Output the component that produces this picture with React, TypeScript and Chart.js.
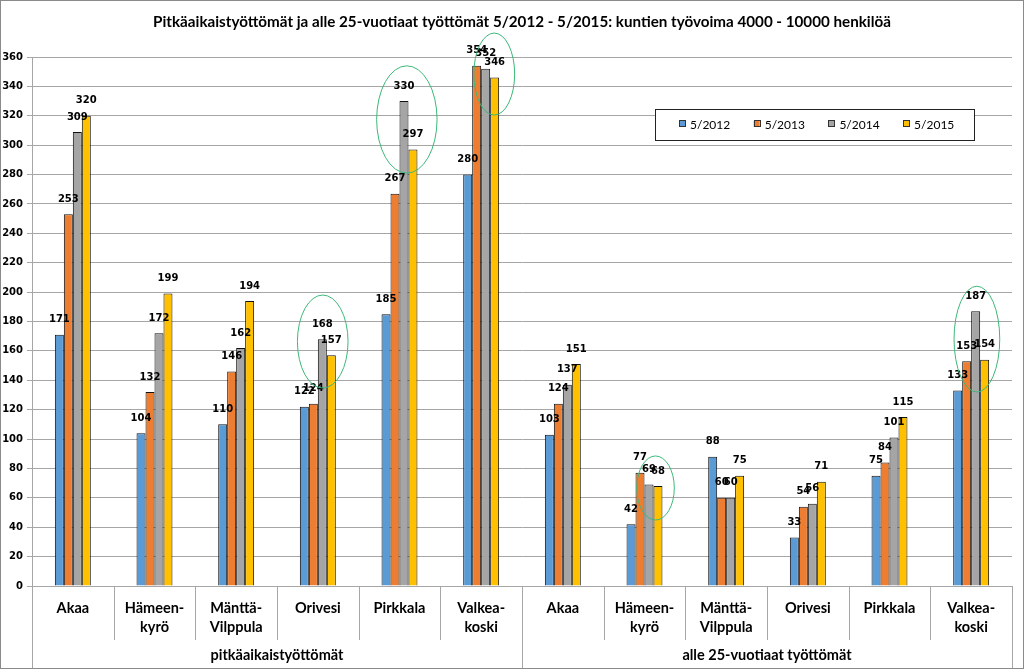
import React, { useEffect, useRef } from 'react';
import { Chart, registerables } from 'chart.js';

Chart.register(...registerables);

const titleText =
  'Pitkäaikaistyöttömät ja alle 25-vuotiaat työttömät 5/2012 - 5/2015: kuntien työvoima 4000 - 10000 henkilöä';
const municipalities: (string | string[])[] = [
  'Akaa',
  ['Hämeen-', 'kyrö'],
  ['Mänttä-', 'Vilppula'],
  'Orivesi',
  'Pirkkala',
  ['Valkea-', 'koski'],
];
const categories = [...municipalities, ...municipalities];
const groups = ['pitkäaikaistyöttömät', 'alle 25-vuotiaat työttömät'];
const seriesLabels = ['5/2012', '5/2013', '5/2014', '5/2015'];
const s2012 = [171, 104, 110, 122, 185, 280, 103, 42, 88, 33, 75, 133];
const s2013 = [253, 132, 146, 124, 267, 354, 124, 77, 60, 54, 84, 153];
const s2014 = [309, 172, 162, 168, 330, 352, 137, 69, 60, 56, 101, 187];
const s2015 = [320, 199, 194, 157, 297, 346, 151, 68, 75, 71, 115, 154];
const seriesColors = ['#5B9BD5', '#ED7D31', '#A5A5A5', '#FFC000'];
const yMin = 0;
const yMax = 360;
const yStep = 20;

// highlight ellipses: category index, centre shift & half width (in category units), value range
const hlCategory = [3, 4, 5, 7, 11];
const hlShift = [0.06, 0.09, 0.16, 0.135, 0.07];
const hlHalfWidth = [0.31, 0.37, 0.25, 0.23, 0.28];
const hlLow = [134.7, 281, 320.5, 44.9, 132];
const hlHigh = [198, 354, 376.3, 88.5, 204];

const GRID = '#a6a6a6';

const customPlugin = {
  id: 'customDecor',
  afterDatasetsDraw(chart: any) {
    const ctx = chart.ctx;
    ctx.save();
    ctx.font = 'bold 10px "DejaVu Sans"';
    ctx.fillStyle = '#000';
    ctx.textAlign = 'center';
    ctx.textBaseline = 'middle';
    chart.data.datasets.forEach((ds: any, di: number) => {
      const meta = chart.getDatasetMeta(di);
      meta.data.forEach((el: any, i: number) => {
        ctx.fillText(String(ds.data[i]), el.x, el.y - 15);
      });
    });
    // ellipses
    const xs = chart.scales.x;
    const ys = chart.scales.y;
    const cw = xs.getPixelForValue(1) - xs.getPixelForValue(0);
    ctx.strokeStyle = '#3cb878';
    ctx.lineWidth = 1;
    hlCategory.forEach((c, k) => {
      const cx = xs.getPixelForValue(c) + hlShift[k] * cw;
      const rx = hlHalfWidth[k] * cw;
      const yTop = ys.getPixelForValue(hlHigh[k]);
      const yBot = ys.getPixelForValue(hlLow[k]);
      ctx.beginPath();
      ctx.ellipse(cx, (yTop + yBot) / 2, rx, (yBot - yTop) / 2, 0, 0, Math.PI * 2);
      ctx.stroke();
    });
    ctx.restore();
  },
  afterDraw(chart: any) {
    const ctx = chart.ctx;
    const area = chart.chartArea;
    const H = chart.height;
    ctx.save();
    // title
    ctx.font = 'bold 15.2px Lato';
    ctx.fillStyle = '#000';
    ctx.textAlign = 'center';
    ctx.textBaseline = 'middle';
    ctx.fillText(titleText, 521, 21);
    // category separators
    const n = categories.length;
    const cw = (area.right - area.left) / n;
    ctx.strokeStyle = GRID;
    ctx.lineWidth = 1;
    for (let i = 0; i <= n; i++) {
      const x = Math.round(area.left + i * cw) + 0.5;
      const full = i === 0 || i === n || i === n / 2;
      ctx.beginPath();
      ctx.moveTo(x, area.bottom);
      ctx.lineTo(x, full ? H : area.bottom + 54);
      ctx.stroke();
    }
    // group labels
    ctx.font = 'bold 14.5px Lato';
    ctx.fillStyle = '#000';
    groups.forEach((g, gi) => {
      const x0 = area.left + gi * (n / 2) * cw;
      const x1 = x0 + (n / 2) * cw;
      ctx.fillText(g, (x0 + x1) / 2, 654);
    });
    // legend
    const lx = 654, ly = 108, lw = 319, lh = 31;
    ctx.fillStyle = '#fff';
    ctx.fillRect(lx, ly, lw, lh);
    ctx.strokeStyle = '#222';
    ctx.strokeRect(lx + 0.5, ly + 0.5, lw, lh);
    ctx.font = '12px Lato';
    ctx.textAlign = 'left';
    seriesLabels.forEach((lab, i) => {
      const mx = 681 + i * 74.7;
      const my = 123;
      ctx.fillStyle = seriesColors[i];
      ctx.fillRect(mx - 3, my - 3, 6, 6);
      ctx.strokeStyle = '#333';
      ctx.strokeRect(Math.round(mx - 3) + 0.5, my - 3.5, 6, 6);
      ctx.fillStyle = '#000';
      ctx.fillText(lab, mx + 8, my + 1);
    });
    ctx.restore();
  },
};

export default function App() {
  const canvasRef = useRef<HTMLCanvasElement | null>(null);

  useEffect(() => {
    if (!canvasRef.current) return;
    const series = [s2012, s2013, s2014, s2015];
    const chart = new Chart(canvasRef.current, {
      type: 'bar',
      data: {
        labels: categories as any,
        datasets: series.map((d, i) => ({
          label: seriesLabels[i],
          data: d,
          backgroundColor: seriesColors[i],
          borderColor: '#111',
          borderWidth: 1,
          categoryPercentage: 0.44,
          barPercentage: 1,
        })),
      },
      options: {
        animation: false,
        responsive: true,
        maintainAspectRatio: false,
        layout: { padding: { top: 56, right: 11, bottom: 0, left: 0 } },
        plugins: {
          legend: { display: false },
          title: { display: false },
          tooltip: { enabled: false },
        },
        scales: {
          x: {
            grid: { display: false },
            border: { display: false },
            ticks: {
              color: '#000',
              font: { family: 'Lato', weight: 'bold', size: 14.5, lineHeight: 1.3 },
              padding: 5,
              maxRotation: 0,
              autoSkip: false,
            },
            afterFit: (s: any) => {
              s.height = 82;
            },
          },
          y: {
            min: yMin,
            max: yMax,
            ticks: {
              stepSize: yStep,
              color: '#000',
              font: { family: 'DejaVu Sans', weight: 'bold', size: 10 },
              padding: 4,
            },
            grid: { color: GRID, lineWidth: 1, tickLength: 5, drawTicks: true },
            border: { display: true, color: GRID },
            afterFit: (s: any) => {
              s.width = 31;
            },
          },
        },
      },
      plugins: [customPlugin],
    });
    return () => chart.destroy();
  }, []);

  return (
    <div
      style={{
        position: 'absolute',
        left: 0,
        top: 0,
        width: 1024,
        height: 669,
        boxSizing: 'border-box',
        border: '1px solid #8a8a8a',
        background: '#fff',
      }}
    >
      <div style={{ position: 'relative', width: 1022, height: 667 }}>
        <canvas ref={canvasRef} />
      </div>
    </div>
  );
}
